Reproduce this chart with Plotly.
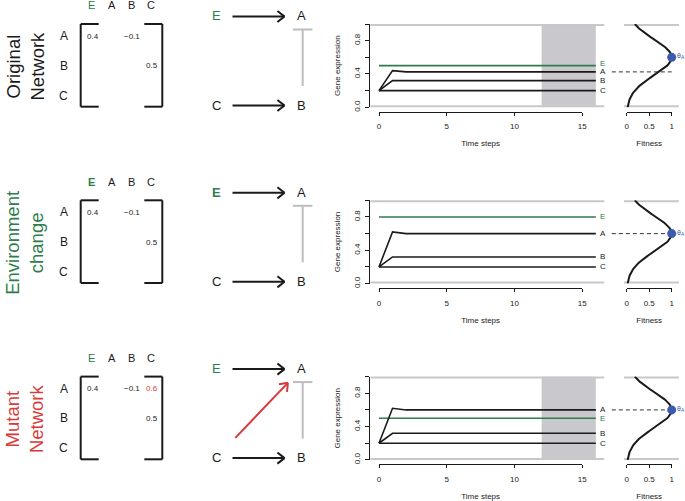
import math
import plotly.graph_objects as go

W, H = 685, 501
FONT = "Liberation Sans, Arial, Helvetica, sans-serif"

# ---------------- data ----------------
time_steps = [0, 1, 2, 3, 4, 5, 6, 7, 8, 9, 10, 11, 12, 13, 14, 15, 16]
scenario_titles = ["Original<br>Network", "Environment<br>change", "Mutant<br>Network"]
genes = ["A", "B", "C"]
regulators = ["E", "A", "B", "C"]

weights_original = [[0.4, 0.0, -0.1, 0.0],
                    [0.0, 0.0, 0.0, 0.5],
                    [0.0, 0.0, 0.0, 0.0]]
weights_environment = [[0.4, 0.0, -0.1, 0.0],
                       [0.0, 0.0, 0.0, 0.5],
                       [0.0, 0.0, 0.0, 0.0]]
weights_mutant = [[0.4, 0.0, -0.1, 0.6],
                  [0.0, 0.0, 0.0, 0.5],
                  [0.0, 0.0, 0.0, 0.0]]

E_original = [0.5, 0.5, 0.5, 0.5, 0.5, 0.5, 0.5, 0.5, 0.5, 0.5, 0.5, 0.5, 0.5, 0.5, 0.5, 0.5, 0.5]
A_original = [0.2, 0.44, 0.425, 0.425, 0.425, 0.425, 0.425, 0.425, 0.425, 0.425, 0.425, 0.425, 0.425, 0.425, 0.425, 0.425, 0.425]
B_original = [0.2, 0.32, 0.32, 0.32, 0.32, 0.32, 0.32, 0.32, 0.32, 0.32, 0.32, 0.32, 0.32, 0.32, 0.32, 0.32, 0.32]
C_original = [0.2, 0.2, 0.2, 0.2, 0.2, 0.2, 0.2, 0.2, 0.2, 0.2, 0.2, 0.2, 0.2, 0.2, 0.2, 0.2, 0.2]

E_environment = [0.8, 0.8, 0.8, 0.8, 0.8, 0.8, 0.8, 0.8, 0.8, 0.8, 0.8, 0.8, 0.8, 0.8, 0.8, 0.8, 0.8]
A_environment = [0.2, 0.62, 0.6, 0.6, 0.6, 0.6, 0.6, 0.6, 0.6, 0.6, 0.6, 0.6, 0.6, 0.6, 0.6, 0.6, 0.6]
B_environment = [0.2, 0.32, 0.32, 0.32, 0.32, 0.32, 0.32, 0.32, 0.32, 0.32, 0.32, 0.32, 0.32, 0.32, 0.32, 0.32, 0.32]
C_environment = [0.2, 0.2, 0.2, 0.2, 0.2, 0.2, 0.2, 0.2, 0.2, 0.2, 0.2, 0.2, 0.2, 0.2, 0.2, 0.2, 0.2]

E_mutant = [0.5, 0.5, 0.5, 0.5, 0.5, 0.5, 0.5, 0.5, 0.5, 0.5, 0.5, 0.5, 0.5, 0.5, 0.5, 0.5, 0.5]
A_mutant = [0.2, 0.62, 0.6, 0.6, 0.6, 0.6, 0.6, 0.6, 0.6, 0.6, 0.6, 0.6, 0.6, 0.6, 0.6, 0.6, 0.6]
B_mutant = [0.2, 0.32, 0.32, 0.32, 0.32, 0.32, 0.32, 0.32, 0.32, 0.32, 0.32, 0.32, 0.32, 0.32, 0.32, 0.32, 0.32]
C_mutant = [0.2, 0.2, 0.2, 0.2, 0.2, 0.2, 0.2, 0.2, 0.2, 0.2, 0.2, 0.2, 0.2, 0.2, 0.2, 0.2, 0.2]

selection_windows = [[12, 16], None, [12, 16]]
theta_A = 0.6
fitness_sigma = 0.216
time_ticks = [0, 5, 10, 15]
expr_ticks = [0.0, 0.4, 0.8]
expr_ticklabels = ["0.0", "0.4", "0.8"]
expr_minor_ticks = [0.2, 0.6, 1.0]
fitness_ticks = [0, 0.5, 1]
fitness_ticklabels = ["0", "0.5", "1"]

# ---------------- style ----------------
GREEN = "#2E7D4B"
RED = "#D83A3A"
BLUE = "#3A5BB0"
INK = "#1A1A1A"
BOXGRAY = "#C8C8C8"
SHADE = "#C9C9CD"
INHIB = "#BDBDBD"
title_colors = [INK, GREEN, RED]

scenarios = [
    dict(w=weights_original, E=E_original, A=A_original, B=B_original, C=C_original),
    dict(w=weights_environment, E=E_environment, A=A_environment, B=B_environment, C=C_environment),
    dict(w=weights_mutant, E=E_mutant, A=A_mutant, B=B_mutant, C=C_mutant),
]
row_offsets = [0, 176.3, 352.6]


def px(x):
    return x / W


def py(y):
    return 1 - y / H


fig = go.Figure()
layout = dict(width=W, height=H, margin=dict(l=0, r=0, t=0, b=0, pad=0, autoexpand=False),
              paper_bgcolor="white", plot_bgcolor="rgba(0,0,0,0)", showlegend=False,
              font=dict(family=FONT, size=8, color=INK))
shapes = []
annotations = []

TS_DOM = (370.3, 604.5)
TS_RANGE = [-0.64, 16.64]
FIT_DOM = (606.0, 685.0)
FIT_RANGE = [(606.0 - 626.7) / 45.0, (685.0 - 626.7) / 45.0]
TSAX_DOM = (379.0, 582.3)
FITAX_DOM = (626.7, 671.7)
Y_TOP, Y_BOT = 24.0, 107.3
AX_Y = 111.7


def axkey(letter, n):
    return f"{letter}axis" if n == 1 else f"{letter}axis{n}"


def axref(letter, n):
    return letter if n == 1 else f"{letter}{n}"


def line_shape(p0, p1, color, width):
    shapes.append(dict(type="line", xref="paper", yref="paper",
                       x0=px(p0[0]), y0=py(p0[1]), x1=px(p1[0]), y1=py(p1[1]),
                       line=dict(color=color, width=width)))


for r, sc in enumerate(scenarios):
    dy = row_offsets[r]
    nx_ts, nx_fit, nx_tsax, nx_fitax = 4 * r + 1, 4 * r + 2, 4 * r + 3, 4 * r + 4
    ny = r + 1
    yr = axref("y", ny)

    layout[axkey("y", ny)] = dict(
        domain=[py(Y_BOT + dy), py(Y_TOP + dy)], range=[0, 1], anchor=axref("x", nx_ts),
        automargin=False,
        showline=True, linecolor=INK, linewidth=1, ticks="outside", ticklen=4,
        tickcolor=INK, tickvals=expr_ticks, ticktext=expr_ticklabels, tickangle=-90,
        minor=dict(tickvals=expr_minor_ticks, ticks="outside", ticklen=4, tickcolor=INK,
                   showgrid=False),
        ticklabelstandoff=2,
        tickfont=dict(size=8), showgrid=False, zeroline=False,
        title=dict(text="Gene expression", font=dict(size=8), standoff=11))
    layout[axkey("x", nx_ts)] = dict(domain=[px(TS_DOM[0]), px(TS_DOM[1])], range=TS_RANGE,
                                     anchor=yr, visible=False, automargin=False)
    layout[axkey("x", nx_fit)] = dict(domain=[px(FIT_DOM[0]), px(FIT_DOM[1])], range=FIT_RANGE,
                                      anchor=yr, visible=False, automargin=False)
    common_ax = dict(anchor="free", position=py(AX_Y + dy), showline=True, linecolor=INK,
                     linewidth=1, ticks="outside", ticklen=3, tickcolor=INK, automargin=False,
                     ticklabelstandoff=4,
                     tickfont=dict(size=8), showgrid=False, zeroline=False)
    layout[axkey("x", nx_tsax)] = dict(domain=[px(TSAX_DOM[0]), px(TSAX_DOM[1])], range=[0, 15],
                                       tickvals=time_ticks,
                                       title=dict(text="Time steps", font=dict(size=8), standoff=10),
                                       **common_ax)
    layout[axkey("x", nx_fitax)] = dict(domain=[px(FITAX_DOM[0]), px(FITAX_DOM[1])], range=[0, 1],
                                        tickvals=fitness_ticks, ticktext=fitness_ticklabels,
                                        title=dict(text="Fitness", font=dict(size=8), standoff=10),
                                        **common_ax)

    xts, xfit = axref("x", nx_ts), axref("x", nx_fit)

    # dummy traces so the free axes get drawn
    for nxa, rng in ((nx_tsax, [0, 15]), (nx_fitax, [0, 1])):
        fig.add_trace(go.Scatter(x=rng, y=[None, None], mode="lines", xaxis=axref("x", nxa),
                                 yaxis=yr, hoverinfo="skip", showlegend=False))

    # selection window shading
    win = selection_windows[r]
    if win is not None:
        shapes.append(dict(type="rect", xref=xts, yref=yr, x0=win[0], x1=win[1], y0=0, y1=1,
                           fillcolor=SHADE, line=dict(width=0), layer="below"))

    # box lines at 0 and 1
    fig.add_trace(go.Scatter(x=[TS_RANGE[0], TS_RANGE[1], None, TS_RANGE[0], TS_RANGE[1]],
                             y=[0, 0, None, 1, 1], mode="lines", xaxis=xts, yaxis=yr,
                             line=dict(color=BOXGRAY, width=4), hoverinfo="skip"))

    # expression lines
    series = [("E", sc["E"], GREEN), ("A", sc["A"], INK), ("B", sc["B"], INK), ("C", sc["C"], INK)]
    for name, vals, col in series:
        fig.add_trace(go.Scatter(x=time_steps, y=vals, mode="lines", xaxis=xts, yaxis=yr,
                                 line=dict(color=col, width=1.6), name=name))

    # right-hand labels, nudged apart
    finals = sorted([(vals[-1], name, col) for name, vals, col in series])
    ys = [f[0] for f in finals]
    for i in range(1, len(ys)):
        if ys[i] - ys[i - 1] < 0.1:
            ys[i] = ys[i - 1] + 0.1
    for (v, name, col), yl in zip(finals, ys):
        annotations.append(dict(xref=xts, yref=yr, x=16.15, y=yl, text=name, showarrow=False,
                                xanchor="left", yanchor="middle", font=dict(size=8, color=col)))

    # fitness panel
    fig.add_trace(go.Scatter(x=[-0.06, 1.16, None, -0.06, 1.16], y=[0, 0, None, 1, 1],
                             mode="lines", xaxis=xfit, yaxis=yr,
                             line=dict(color=BOXGRAY, width=4), hoverinfo="skip"))
    gy = [i / 100 for i in range(101)]
    gx = [math.exp(-((g - theta_A) ** 2) / (2 * fitness_sigma ** 2)) for g in gy]
    fig.add_trace(go.Scatter(x=gx, y=gy, mode="lines", xaxis=xfit, yaxis=yr,
                             line=dict(color=INK, width=2)))
    a_final = sc["A"][-1]
    fig.add_trace(go.Scatter(x=[-0.33, 1.0], y=[a_final, a_final], mode="lines", xaxis=xfit,
                             yaxis=yr, line=dict(color="#333333", width=1, dash="4px,3px")))
    fig.add_trace(go.Scatter(x=[1.0], y=[theta_A], mode="markers", xaxis=xfit, yaxis=yr,
                             marker=dict(color=BLUE, size=9), cliponaxis=False))
    annotations.append(dict(xref=xfit, yref=yr, x=1.065, y=theta_A + 0.01, text="θ<sub>A</sub>",
                            showarrow=False, xanchor="left", yanchor="middle",
                            font=dict(size=7, color=BLUE)))

    # row title
    annotations.append(dict(xref="paper", yref="paper", x=px(24.5), y=py(66 + dy),
                            text=scenario_titles[r], textangle=-90, showarrow=False,
                            xanchor="center", yanchor="middle",
                            font=dict(size=18.5, color=title_colors[r])))

    # ---------- weight matrix ----------
    w = sc["w"]
    w0 = weights_original
    col_x = [91.7, 112.3, 131.0, 150.7]
    row_y = [36.0, 65.7, 95.7]
    for j, reg in enumerate(regulators):
        is_e = reg == "E"
        txt = f"<b>{reg}</b>" if (is_e and r == 1) else reg
        annotations.append(dict(xref="paper", yref="paper", x=px(col_x[j]), y=py(5.5 + dy),
                                text=txt, showarrow=False, xanchor="center", yanchor="middle",
                                font=dict(size=11, color=GREEN if is_e else INK)))
    for i, g in enumerate(genes):
        annotations.append(dict(xref="paper", yref="paper", x=px(64), y=py(row_y[i] + dy),
                                text=g, showarrow=False, xanchor="center", yanchor="middle",
                                font=dict(size=12, color=INK)))
        for j in range(len(regulators)):
            v = w[i][j]
            if v != 0:
                s = f"{v:.1f}".replace("-", "\u2212")
                col = RED if v != w0[i][j] else INK
                annotations.append(dict(xref="paper", yref="paper", x=px(col_x[j] + 0.8),
                                        y=py(row_y[i] + dy), text=s, showarrow=False,
                                        xanchor="center", yanchor="middle",
                                        font=dict(size=8, color=col)))
    # brackets
    bt, bb = 24.0 + dy, 106.7 + dy
    line_shape((80.7, bt), (80.7, bb), INK, 2)
    line_shape((80.7, bt), (98.7, bt), INK, 2)
    line_shape((80.7, bb), (98.7, bb), INK, 2)
    line_shape((162.3, bt), (162.3, bb), INK, 2)
    line_shape((144.3, bt), (162.3, bt), INK, 2)
    line_shape((144.3, bb), (162.3, bb), INK, 2)

    # ---------- network diagram ----------
    nodes = {"E": (216.0, 16.5 + dy), "A": (301.0, 16.5 + dy),
             "C": (216.0, 105.5 + dy), "B": (301.0, 105.5 + dy)}
    for name, (nxp, nyp) in nodes.items():
        is_e = name == "E"
        txt = f"<b>{name}</b>" if (is_e and r == 1) else name
        annotations.append(dict(xref="paper", yref="paper", x=px(nxp), y=py(nyp - 0.5), text=txt,
                                showarrow=False, xanchor="center", yanchor="middle",
                                font=dict(size=13, color=GREEN if is_e else INK)))
    for i, tgt in enumerate(genes):
        for j, src in enumerate(regulators):
            v = w[i][j]
            if v == 0 or src == tgt:
                continue
            (sx, sy), (tx, ty) = nodes[src], nodes[tgt]
            dxp, dyp = tx - sx, ty - sy
            L = math.hypot(dxp, dyp)
            ux, uy = dxp / L, dyp / L
            diagonal = abs(dxp) > 1 and abs(dyp) > 1
            if v < 0:
                g0, g1 = 19.5, 13.0
            elif diagonal:
                g0, g1 = 28.0, 19.0
            else:
                g0, g1 = 16.5, 16.5
            p0 = (sx + ux * g0, sy + uy * g0)
            p1 = (tx - ux * g1, ty - uy * g1)
            mutated = v != w0[i][j]
            if v < 0:
                col = RED if mutated else INHIB
                p0 = (p0[0] + 1.7, p0[1])
                p1 = (p1[0] + 1.7, p1[1])
                line_shape(p0, p1, col, 2)
                nxv, nyv = -uy, ux
                line_shape((p1[0] - nxv * 9.7, p1[1] - nyv * 9.7),
                           (p1[0] + nxv * 9.7, p1[1] + nyv * 9.7), col, 2)
            else:
                col = RED if mutated else INK
                line_shape(p0, p1, col, 2)
                ang = math.radians(38)
                for sgn in (1, -1):
                    ca, sa = math.cos(sgn * ang), math.sin(sgn * ang)
                    rx = ux * ca - uy * sa
                    ry = ux * sa + uy * ca
                    line_shape(p1, (p1[0] - rx * 9.0, p1[1] - ry * 9.0), col, 2)

layout["shapes"] = shapes
layout["annotations"] = annotations
fig.update_layout(**layout)
fig.write_html("out.html", config={"displayModeBar": False},
               post_script="document.body.style.margin='0';document.body.style.overflow='hidden';")
